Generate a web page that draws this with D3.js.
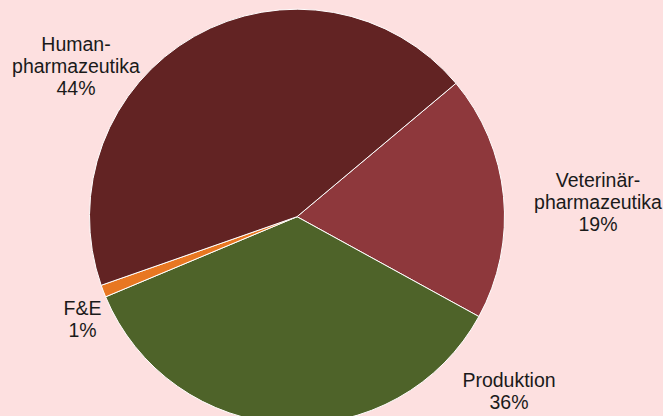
<!DOCTYPE html>
<html><head><meta charset="utf-8">
<script src="https://cdn.jsdelivr.net/npm/d3@7"></script>
<style>html,body{margin:0;padding:0;background:#fde0e0;}svg{display:block;}</style>
</head><body>
<svg id="c" width="663" height="416"></svg>
<script>
const categories = ["Veterinär-\npharmazeutika", "Produktion", "F&E", "Human-\npharmazeutika"];
const values = [19.1, 35.7, 0.95, 44.25];
const percentLabels = ["19%", "36%", "1%", "44%"];
const colors = ["#8e383c", "#4e6329", "#e87722", "#622323"];

const W = 663, H = 416;
const cx = 297, cy = 216.7, R = 207.5;
const startDeg = 50.0;
// label first-baseline anchors (layout), relative to pie centre
const labelPos = [[301, -30], [212, 170.6], [-214.5, 98.3], [-221, -166]];

const svg = d3.select("#c");
svg.append("rect").attr("width", W).attr("height", H).attr("fill", "#fde0e0");

const pie = d3.pie().sort(null).value(d => d)
  .startAngle(startDeg * Math.PI / 180)
  .endAngle(startDeg * Math.PI / 180 + 2 * Math.PI);
const arc = d3.arc().innerRadius(0).outerRadius(R);
const g = svg.append("g").attr("transform", `translate(${cx},${cy})`);
const arcs = pie(values);
g.selectAll("path").data(arcs).join("path")
  .attr("d", arc).attr("fill", (d, i) => colors[i])
  .attr("stroke", "#ffffff").attr("stroke-width", 1);

const lh = 22;
arcs.forEach((d, i) => {
  const lines = categories[i].split("\n").concat([percentLabels[i]]);
  const [lx, ly] = labelPos[i];
  const t = g.append("text").attr("text-anchor", "middle")
    .attr("font-family", "Liberation Sans, Arial, sans-serif")
    .attr("font-size", 19.5).attr("fill", "#1a1a1a");
  lines.forEach((s, k) => {
    t.append("tspan").attr("x", lx).attr("y", ly + k * lh).text(s);
  });
});
</script>
</body></html>
